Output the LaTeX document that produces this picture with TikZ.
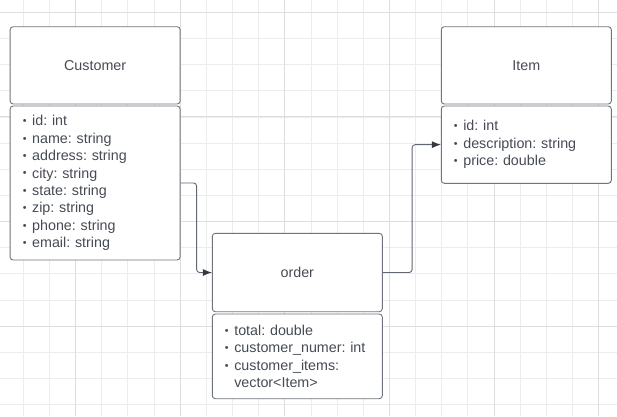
\documentclass[tikz,border=0pt]{standalone}
\usepackage{xcolor}
\usepackage{tikz}
\usepackage{fontspec}
\setmainfont{Liberation Sans}
\usetikzlibrary{arrows.meta, positioning, calc}
\definecolor{boxgray}{RGB}{112, 116, 124}
\definecolor{textgray}{RGB}{70, 75, 84}
\definecolor{linkgray}{RGB}{98, 104, 113}
\definecolor{tipdark}{RGB}{52, 57, 66}
\definecolor{gridminor}{RGB}{236, 236, 236}
\definecolor{gridmajor}{RGB}{222, 222, 222}
\newcommand{\fld}[1]{\makebox[10pt][l]{\hspace{0.6pt}\raisebox{1.1pt}{\scalebox{0.75}{\textbullet}}}#1}
\frenchspacing
\begin{document}
\begin{tikzpicture}[
    x=1pt, y=-1pt,
    header/.style={rectangle, rounded corners=3pt, draw=boxgray, line width=0.9pt, fill=white, minimum width=170pt, minimum height=77.3pt, text=textgray, font=\fontsize{14.3}{17.4}\selectfont},
    fields/.style={rectangle, rounded corners=3pt, draw=boxgray, line width=0.9pt, fill=white, minimum width=170pt, inner xsep=12pt, text width=146pt, align=left, text=textgray, font=\fontsize{14.3}{17.4}\selectfont},
    link/.style={draw=linkgray, line width=0.9pt, rounded corners=3pt, -{Latex[length=9pt, width=7pt, color=tipdark]}},
    gridline/.style={draw=gridminor, line width=0.8pt},
    gridbold/.style={draw=gridmajor, line width=0.9pt}
]
    \useasboundingbox (0,0) rectangle (617,416);
    \fill[white] (0,0) rectangle (617,416);

    % Grid
    \foreach \k in {1,...,23} {
        \draw[gridline] ({-2.9+26.15*\k},0) -- ++(0,416);
    }
    \foreach \k in {0,...,15} {
        \draw[gridline] (0,{12.3+26.15*\k}) -- ++(617,0);
    }
    \foreach \gx in {75.55, 180.15, 284.75, 389.35, 493.95, 598.55} {
        \draw[gridbold] (\gx,0) -- ++(0,416);
    }
    \foreach \gy in {12.3, 116.9, 221.5, 326.1} {
        \draw[gridbold] (0,\gy) -- ++(617,0);
    }

    % Customer
    \node[header] (custhead) at (95.15,65.35) {Customer};
    \node[fields, minimum height=154pt] (custbody) at (95.15,183) {\fld{id: int}\\\fld{name: string}\\\fld{address: string}\\\fld{city: string}\\\fld{state: string}\\\fld{zip: string}\\\fld{phone: string}\\\fld{email: string}};

    % Item
    \node[header] (itemhead) at (526.3,65.35) {Item};
    \node[fields, minimum height=77.3pt] (itembody) at (526.3,144.65) {\fld{id: int}\\\fld{description: string}\\\fld{price: double}};

    % Order
    \node[header, minimum height=78.4pt] (orderhead) at (297.3,272.5) {order};
    \node[fields, minimum height=84.7pt] (orderbody) at (297.3,356.35) {\fld{total: double}\\\fld{customer\_numer: int}\\\fld{customer\_items:}\\\hspace*{10pt}vector<Item>};

    % Arrows
    \draw[link] (custbody.east) -- ++(16,0) |- (orderhead.west);
    \draw[link] (orderhead.east) -- ++(29.4,0) |- (itembody.west);
\end{tikzpicture}
\end{document}
